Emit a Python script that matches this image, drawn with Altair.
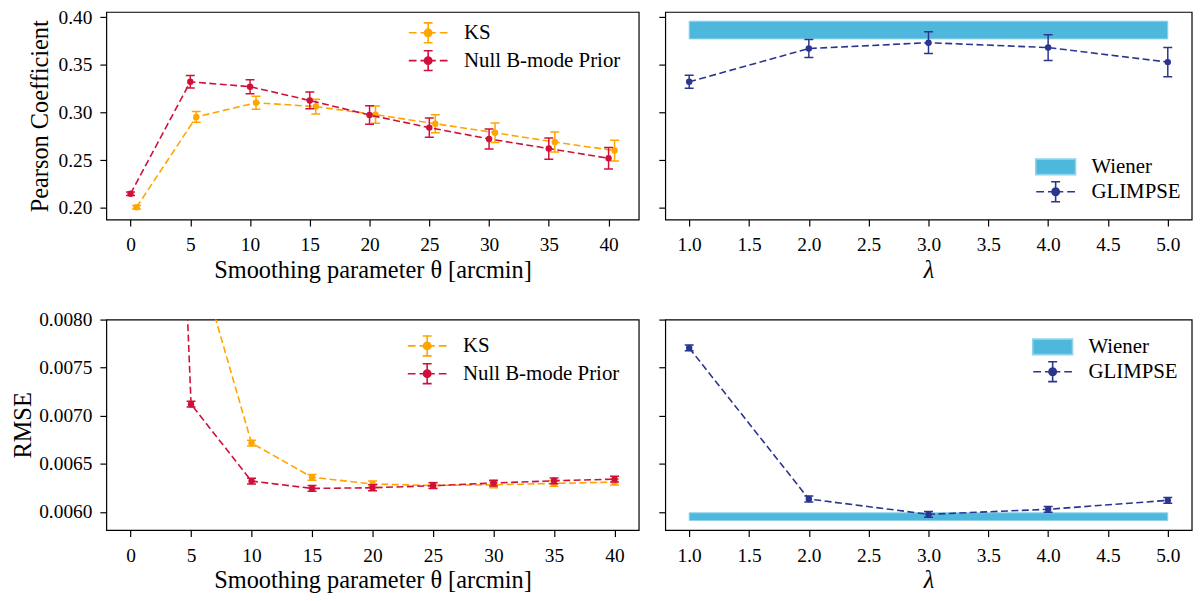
import altair as alt
import pandas as pd

FONT = "Liberation Serif"
C_KS = "#FFA500"
C_NULL = "#D0103A"
C_GL = "#2A3590"
C_WI = "#4DB7DC"
C_WI_EDGE = "#8FD2EC"

# ---- data ----
theta = [0, 5, 10, 15, 20, 25, 30, 35, 40]
theta_ks_top = [0.5, 5.5, 10.5, 15.5, 20.5, 25.5, 30.5, 35.5, 40.5]

pearson_ks = [0.2004, 0.2953, 0.3102, 0.3062, 0.2977, 0.2882, 0.2787, 0.2689, 0.2600]
pearson_ks_err = [0.0018, 0.0056, 0.0069, 0.0078, 0.0090, 0.0095, 0.0102, 0.0105, 0.0109]
pearson_null = [0.2146, 0.3322, 0.3271, 0.3126, 0.2973, 0.2841, 0.2722, 0.2621, 0.2519]
pearson_null_err = [0.0018, 0.0066, 0.0074, 0.0088, 0.0097, 0.0102, 0.0105, 0.0112, 0.0114]

rmse_ks = [0.0125, 0.00889, 0.006716, 0.006360, 0.006290, 0.006275, 0.006282, 0.006296, 0.006310]
rmse_ks_err = [0.00004, 0.00003, 0.00003, 0.00003, 0.00003, 0.00003, 0.00003, 0.00003, 0.00003]
rmse_null = [0.0228, 0.00712, 0.00632, 0.006244, 0.006251, 0.006272, 0.006300, 0.006323, 0.006341]
rmse_null_err = [0.00004, 0.00003, 0.00003, 0.00003, 0.00003, 0.00003, 0.00003, 0.00003, 0.00003]

lam = [1.0, 2.0, 3.0, 4.0, 5.0]
glimpse_pearson = [0.3322, 0.3672, 0.3733, 0.3682, 0.3529]
glimpse_pearson_err = [0.0068, 0.0094, 0.0114, 0.0135, 0.0153]
glimpse_rmse = [0.007705, 0.006134, 0.005975, 0.006027, 0.006120]
glimpse_rmse_err = [0.00003, 0.00003, 0.00003, 0.00003, 0.00003]

wiener_pearson = 0.3866
wiener_pearson_err = 0.0093
wiener_rmse = 0.00595
wiener_rmse_err = 0.00004

names_left = ["KS", "Null B-mode Prior"]
names_right = ["Wiener", "GLIMPSE"]

x_ticks_left = [0, 5, 10, 15, 20, 25, 30, 35, 40]
x_ticks_right = [1.0, 1.5, 2.0, 2.5, 3.0, 3.5, 4.0, 4.5, 5.0]
y_ticks_top = [0.20, 0.25, 0.30, 0.35, 0.40]
y_ticks_bot = [0.0060, 0.0065, 0.0070, 0.0075, 0.0080]

# ---- layout ----
W_LEFT = 536
W_RIGHT = 530
H_TOP = 209
H_BOT = 212

ERR_PATH = ("M-1.95,0H-1.17M-0.77,0H0.77M1.17,0H1.95"
            "M0,-1V1M-0.45,-1H0.45M-0.45,1H0.45"
            "M0.37,0A0.37,0.37,0,1,1,-0.37,0A0.37,0.37,0,1,1,0.37,0Z")
RECT_PATH = "M-2,-0.78H2V0.78H-2Z"


def make_df(xs, ys, errs):
    return pd.DataFrame({
        "x": xs,
        "y": ys,
        "lo": [v - e for v, e in zip(ys, errs)],
        "hi": [v + e for v, e in zip(ys, errs)],
    })


def enc_factory(xdom, xticks, xfmt, xtitle, ydom, yticks, yfmt, ytitle,
                ylabels=True, xitalic=False, ytitlepad=8):
    xaxis_kw = dict(values=xticks, format=xfmt, title=xtitle, labelPadding=10)
    if xitalic:
        xaxis_kw["titleFontStyle"] = "italic"
    yaxis_kw = dict(values=yticks, format=yfmt, labels=ylabels,
                    title=ytitle if ytitle else "", titlePadding=ytitlepad)

    def X(field):
        return alt.X(field, type="quantitative",
                     scale=alt.Scale(domain=xdom, nice=False, zero=False),
                     axis=alt.Axis(**xaxis_kw))

    def Y(field):
        return alt.Y(field, type="quantitative",
                     scale=alt.Scale(domain=ydom, nice=False, zero=False),
                     axis=alt.Axis(**yaxis_kw))
    return X, Y


def series_layers(df, color, X, Y):
    base = alt.Chart(df)
    line = base.mark_line(color=color, strokeWidth=1.6, strokeDash=[7, 3.5], clip=True).encode(
        x=X("x"), y=Y("y"))
    rule = base.mark_rule(color=color, strokeWidth=1.5, clip=True).encode(
        x=X("x"), y=Y("lo"), y2="hi")
    cap_lo = base.mark_tick(color=color, orient="horizontal", size=9, thickness=1.5,
                            opacity=1, clip=True).encode(x=X("x"), y=Y("lo"))
    cap_hi = base.mark_tick(color=color, orient="horizontal", size=9, thickness=1.5,
                            opacity=1, clip=True).encode(x=X("x"), y=Y("hi"))
    pts = base.mark_point(filled=True, color=color, size=42, opacity=1, clip=True).encode(
        x=X("x"), y=Y("y"))
    return [line, rule, cap_lo, cap_hi, pts]


def legend_layer(names, fills, strokes, shapes, lx, ly):
    leg = alt.Legend(title=None, orient="none", legendX=lx, legendY=ly,
                     labelFont=FONT, labelFontSize=21, labelColor="black",
                     symbolSize=400, symbolStrokeWidth=1.6, labelOffset=25,
                     rowPadding=0, padding=0, symbolOpacity=1)
    df = pd.DataFrame({"series": names})
    return alt.Chart(df).transform_filter("false").mark_point(
        filled=True, opacity=1, strokeWidth=1.6).encode(
        fill=alt.Fill("series:N", scale=alt.Scale(domain=names, range=fills), legend=leg),
        stroke=alt.Stroke("series:N", scale=alt.Scale(domain=names, range=strokes), legend=leg),
        shape=alt.Shape("series:N", scale=alt.Scale(domain=names, range=shapes), legend=leg),
    )


TOP_YDOM = [0.1875, 0.4056]
BOT_YDOM = [0.00581, 0.0080]

# ---- top-left ----
X, Y = enc_factory([-2.025, 42.525], x_ticks_left, "d", "Smoothing parameter θ [arcmin]",
                   TOP_YDOM, y_ticks_top, ".2f", "Pearson Coefficient", ytitlepad=6)
tl_layers = (series_layers(make_df(theta_ks_top, pearson_ks, pearson_ks_err), C_KS, X, Y)
             + series_layers(make_df(theta, pearson_null, pearson_null_err), C_NULL, X, Y)
             + [legend_layer(names_left, [C_KS, C_NULL], [C_KS, C_NULL], [ERR_PATH, ERR_PATH], 313, 10)])
top_left = alt.layer(*tl_layers).properties(width=W_LEFT, height=H_TOP)

# ---- top-right ----
X, Y = enc_factory([0.8, 5.2], x_ticks_right, ".1f", "λ",
                   TOP_YDOM, y_ticks_top, ".2f", None, ylabels=False, xitalic=True)
wdf_top = pd.DataFrame({"x0": [lam[0]], "x1": [lam[-1]],
                        "lo": [wiener_pearson - wiener_pearson_err],
                        "hi": [wiener_pearson + wiener_pearson_err]})
band_top = alt.Chart(wdf_top).mark_rect(fill=C_WI, stroke=C_WI_EDGE, strokeWidth=1).encode(
    x=X("x0"), x2="x1", y=Y("lo"), y2="hi")
tr_layers = ([band_top]
             + series_layers(make_df(lam, glimpse_pearson, glimpse_pearson_err), C_GL, X, Y)
             + [legend_layer(names_right, [C_WI, C_GL], [C_WI_EDGE, C_GL], [RECT_PATH, ERR_PATH], 382, 145)])
top_right = alt.layer(*tr_layers).properties(width=W_RIGHT, height=H_TOP)

# ---- bottom-left ----
X, Y = enc_factory([-2, 42], x_ticks_left, "d", "Smoothing parameter θ [arcmin]",
                   BOT_YDOM, y_ticks_bot, ".4f", "RMSE", ytitlepad=3)
bl_layers = (series_layers(make_df(theta, rmse_ks, rmse_ks_err), C_KS, X, Y)
             + series_layers(make_df(theta, rmse_null, rmse_null_err), C_NULL, X, Y)
             + [legend_layer(names_left, [C_KS, C_NULL], [C_KS, C_NULL], [ERR_PATH, ERR_PATH], 312, 15.5)])
bottom_left = alt.layer(*bl_layers).properties(width=W_LEFT, height=H_BOT)

# ---- bottom-right ----
X, Y = enc_factory([0.8, 5.2], x_ticks_right, ".1f", "λ",
                   BOT_YDOM, y_ticks_bot, ".4f", None, ylabels=False, xitalic=True)
wdf_bot = pd.DataFrame({"x0": [lam[0]], "x1": [lam[-1]],
                        "lo": [wiener_rmse - wiener_rmse_err],
                        "hi": [wiener_rmse + wiener_rmse_err]})
band_bot = alt.Chart(wdf_bot).mark_rect(fill=C_WI, stroke=C_WI_EDGE, strokeWidth=1).encode(
    x=X("x0"), x2="x1", y=Y("lo"), y2="hi")
br_layers = ([band_bot]
             + series_layers(make_df(lam, glimpse_rmse, glimpse_rmse_err), C_GL, X, Y)
             + [legend_layer(names_right, [C_WI, C_GL], [C_WI_EDGE, C_GL], [RECT_PATH, ERR_PATH], 379, 16.5)])
bottom_right = alt.layer(*br_layers).properties(width=W_RIGHT, height=H_BOT)

RES = dict(x="independent", y="independent", fill="independent",
           stroke="independent", shape="independent")
LRES = dict(fill="independent", stroke="independent", shape="independent")

chart = alt.concat(top_left, top_right, bottom_left, bottom_right, columns=2,
                   spacing={"row": 100.7, "column": 26.7}, bounds="flush") \
    .resolve_scale(**RES).resolve_legend(**LRES) \
    .properties(padding={"left": 2, "top": -4, "right": 0, "bottom": 0}) \
    .configure_view(stroke="black", strokeWidth=1.2) \
    .configure_axis(labelFont=FONT, titleFont=FONT, labelFontSize=19.5, titleFontSize=24.5,
                    titleFontWeight="normal", labelColor="black", titleColor="black",
                    tickColor="black", tickWidth=1.2, tickSize=6.5, domain=False, grid=False,
                    labelPadding=8, titlePadding=4) \
    .configure_legend(labelFont=FONT)

chart.save("out.html", embed_options={"renderer": "svg", "actions": False})
